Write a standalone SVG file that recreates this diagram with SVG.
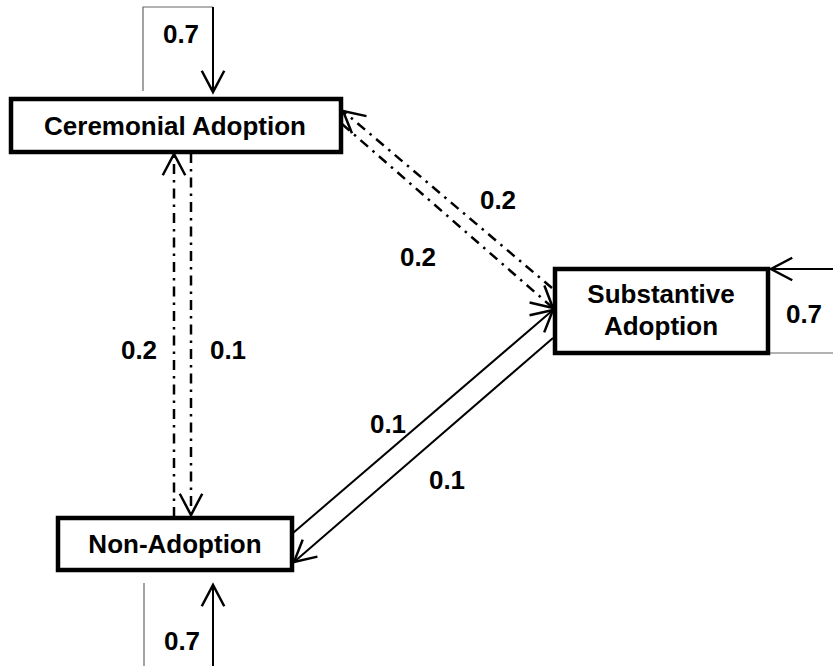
<svg xmlns="http://www.w3.org/2000/svg" width="833" height="666" viewBox="0 0 833 666">
<style>
.box{fill:#fff;stroke:#000;stroke-width:4.5}
.lbl{font-family:"Liberation Sans",Arial,sans-serif;font-weight:bold;font-size:26px;fill:#000;text-anchor:middle}
.num{font-family:"Liberation Sans",Arial,sans-serif;font-weight:bold;font-size:26px;fill:#000;text-anchor:middle}
.solid{fill:none;stroke:#000;stroke-width:2}
.dd{fill:none;stroke:#000;stroke-width:2.5;stroke-dasharray:10,6,2.5,6}
.thin{fill:none;stroke:#666;stroke-width:1.2}
</style>
<defs>
<marker id="ah" markerUnits="userSpaceOnUse" markerWidth="30" markerHeight="30" viewBox="-20 -12 22 24" refX="0" refY="0" orient="auto" overflow="visible">
<path d="M-17,-9 L0,0 L-17,9" fill="none" stroke="#000" stroke-width="2"/>
</marker>
</defs>
<g id="connectors">
<path class="thin" d="M143,91 V7 H213"/>
<path class="solid" d="M213,7 V92" marker-end="url(#ah)"/>
<path class="thin" d="M144,583 V666"/>
<path class="solid" d="M213,666 V585" marker-end="url(#ah)"/>
<path class="solid" d="M833,269 H771" marker-end="url(#ah)"/>
<path class="thin" d="M770,353 H833"/>
<path class="dd" d="M174,517 V154" marker-end="url(#ah)"/>
<path class="dd" d="M191,153 V515" marker-end="url(#ah)"/>
<path class="dd" d="M552,288 L343,111" marker-end="url(#ah)"/>
<path class="dd" d="M342,124 L553,308" marker-end="url(#ah)"/>
<path class="solid" d="M293,533 L553,310" marker-end="url(#ah)"/>
<path class="solid" d="M553,338 L294,562" marker-end="url(#ah)"/>
<text class="num" x="181" y="43">0.7</text>
<text class="num" x="182" y="650">0.7</text>
<text class="num" x="804" y="323">0.7</text>
<text class="num" x="498" y="209">0.2</text>
<text class="num" x="418" y="266">0.2</text>
<text class="num" x="139" y="359">0.2</text>
<text class="num" x="228" y="359">0.1</text>
<text class="num" x="388" y="433">0.1</text>
<text class="num" x="447" y="489">0.1</text>
</g>
<g id="ceremonial">
<rect class="box" x="11" y="99" width="330" height="53"/>
<text class="lbl" x="175" y="135">Ceremonial Adoption</text>
</g>
<g id="substantive">
<rect class="box" x="555" y="269" width="213" height="84"/>
<text class="lbl" x="661" y="303">Substantive</text>
<text class="lbl" x="661" y="335">Adoption</text>
</g>
<g id="nonadoption">
<rect class="box" x="58" y="518" width="234" height="52"/>
<text class="lbl" x="175" y="553">Non-Adoption</text>
</g>
</svg>
